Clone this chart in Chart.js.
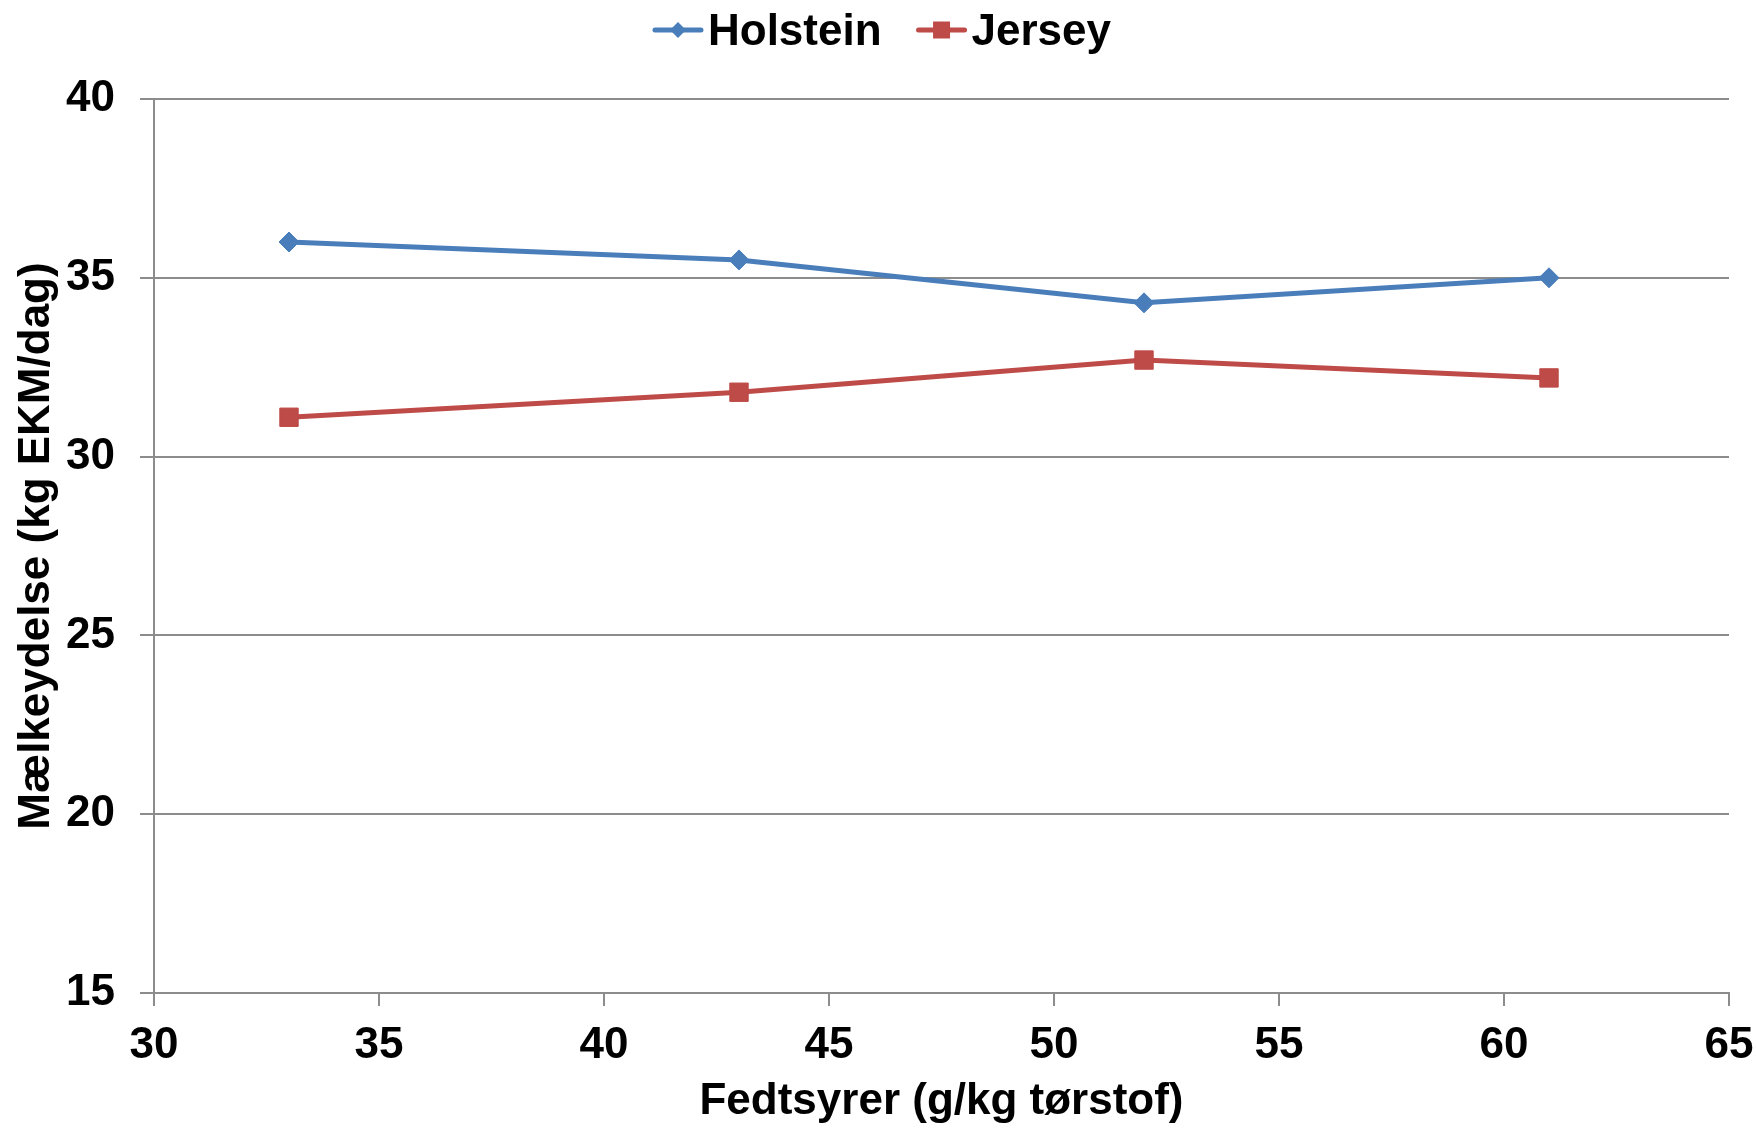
<!DOCTYPE html>
<html>
<head>
<meta charset="utf-8">
<script src="https://cdn.jsdelivr.net/npm/chart.js@4/dist/chart.umd.min.js"></script>
<style>
  html, body { margin: 0; padding: 0; background: #ffffff; }
  #wrap { width: 1756px; height: 1128px; }
</style>
</head>
<body>
<div id="wrap"><canvas id="c" width="1756" height="1128"></canvas></div>
<script>
// Fatty acid level (g/kg dry matter) and energy-corrected milk yield per breed
const fedtsyrer = [33, 43, 52, 61];
const holstein = [36.0, 35.5, 34.3, 35.0];
const jersey = [31.1, 31.8, 32.7, 32.2];
const seriesNames = ['Holstein', 'Jersey'];
const xTitle = 'Fedtsyrer (g/kg tørstof)';
const yTitle = 'Mælkeydelse (kg EKM/dag)';

const BLUE = '#4A7EBB';
const RED = '#BE4B48';
const AXIS = '#8C8C8C';
const FONT = '"Liberation Sans", Arial, sans-serif';

const toPoints = (xs, ys) => xs.map((x, i) => ({ x: x, y: ys[i] }));

// Legend drawn as a short line with the series marker in its middle
const lineLegend = {
  id: 'lineLegend',
  afterDraw(chart) {
    const ctx = chart.ctx;
    ctx.save();
    ctx.font = 'bold 44px ' + FONT;
    const sample = 50, gapText = 5, gapItem = 35;
    const items = chart.data.datasets.map(ds => ({ ds, w: ctx.measureText(ds.label).width }));
    const total = items.reduce((s, it) => s + sample + gapText + it.w, 0) + gapItem * (items.length - 1);
    let x = chart.width / 2 + 4 - total / 2;
    const yLine = 30, yText = 45;
    for (const it of items) {
      const ds = it.ds;
      ctx.strokeStyle = ds.borderColor;
      ctx.lineWidth = 5;
      ctx.lineCap = 'round';
      ctx.beginPath();
      ctx.moveTo(x + 2, yLine);
      ctx.lineTo(x + sample - 2, yLine);
      ctx.stroke();
      const cx = x + sample / 2;
      ctx.fillStyle = ds.borderColor;
      ctx.beginPath();
      if (ds.pointStyle === 'rectRot') {
        const r = 8;
        ctx.moveTo(cx - r, yLine);
        ctx.lineTo(cx, yLine - r);
        ctx.lineTo(cx + r, yLine);
        ctx.lineTo(cx, yLine + r);
        ctx.closePath();
      } else {
        const s = 8.5;
        ctx.rect(cx - s, yLine - s, 2 * s, 2 * s);
      }
      ctx.fill();
      x += sample + gapText;
      ctx.fillStyle = '#000000';
      ctx.textBaseline = 'alphabetic';
      ctx.textAlign = 'left';
      ctx.fillText(ds.label, x, yText);
      x += it.w + gapItem;
    }
    ctx.restore();
  }
};

new Chart(document.getElementById('c'), {
  type: 'line',
  data: {
    datasets: [
      {
        label: seriesNames[0],
        data: toPoints(fedtsyrer, holstein),
        borderColor: BLUE,
        backgroundColor: BLUE,
        pointBackgroundColor: BLUE,
        pointBorderColor: BLUE,
        borderWidth: 5,
        pointStyle: 'rectRot',
        pointRadius: 10,
        pointBorderWidth: 1,
        tension: 0
      },
      {
        label: seriesNames[1],
        data: toPoints(fedtsyrer, jersey),
        borderColor: RED,
        backgroundColor: RED,
        pointBackgroundColor: RED,
        pointBorderColor: RED,
        borderWidth: 5,
        pointStyle: 'rect',
        pointRadius: 13,
        pointBorderWidth: 1,
        tension: 0
      }
    ]
  },
  options: {
    responsive: false,
    animation: false,
    devicePixelRatio: 1,
    layout: { padding: { top: 99, right: 0, bottom: 0, left: 0 } },
    plugins: {
      legend: { display: false },
      tooltip: { enabled: false }
    },
    scales: {
      x: {
        type: 'linear',
        min: 30,
        max: 65,
        ticks: {
          stepSize: 5,
          color: '#000000',
          padding: 13,
          maxRotation: 0,
          font: { family: FONT, size: 44, weight: 'bold' }
        },
        grid: {
          drawOnChartArea: false,
          drawTicks: true,
          tickLength: 13,
          color: AXIS,
          lineWidth: 2
        },
        border: { display: true, color: AXIS, width: 2 },
        title: {
          display: true,
          text: xTitle,
          color: '#000000',
          padding: { top: 0, bottom: 0 },
          font: { family: FONT, size: 44, weight: 'bold' }
        },
        afterFit(scale) {
          scale.height = 135;
          scale.paddingLeft = 0;
          scale.paddingRight = 27;
        }
      },
      y: {
        type: 'linear',
        min: 15,
        max: 40,
        ticks: {
          stepSize: 5,
          color: '#000000',
          padding: 25,
          font: { family: FONT, size: 44, weight: 'bold' }
        },
        grid: {
          drawOnChartArea: true,
          drawTicks: true,
          tickLength: 14,
          color: AXIS,
          lineWidth: 2
        },
        border: { display: true, color: AXIS, width: 2 },
        title: {
          display: true,
          text: yTitle,
          color: '#000000',
          padding: { top: 10, bottom: 0 },
          font: { family: FONT, size: 44, weight: 'bold' }
        },
        afterFit(scale) { scale.width = 154; }
      }
    }
  },
  plugins: [lineLegend]
});
</script>
</body>
</html>
